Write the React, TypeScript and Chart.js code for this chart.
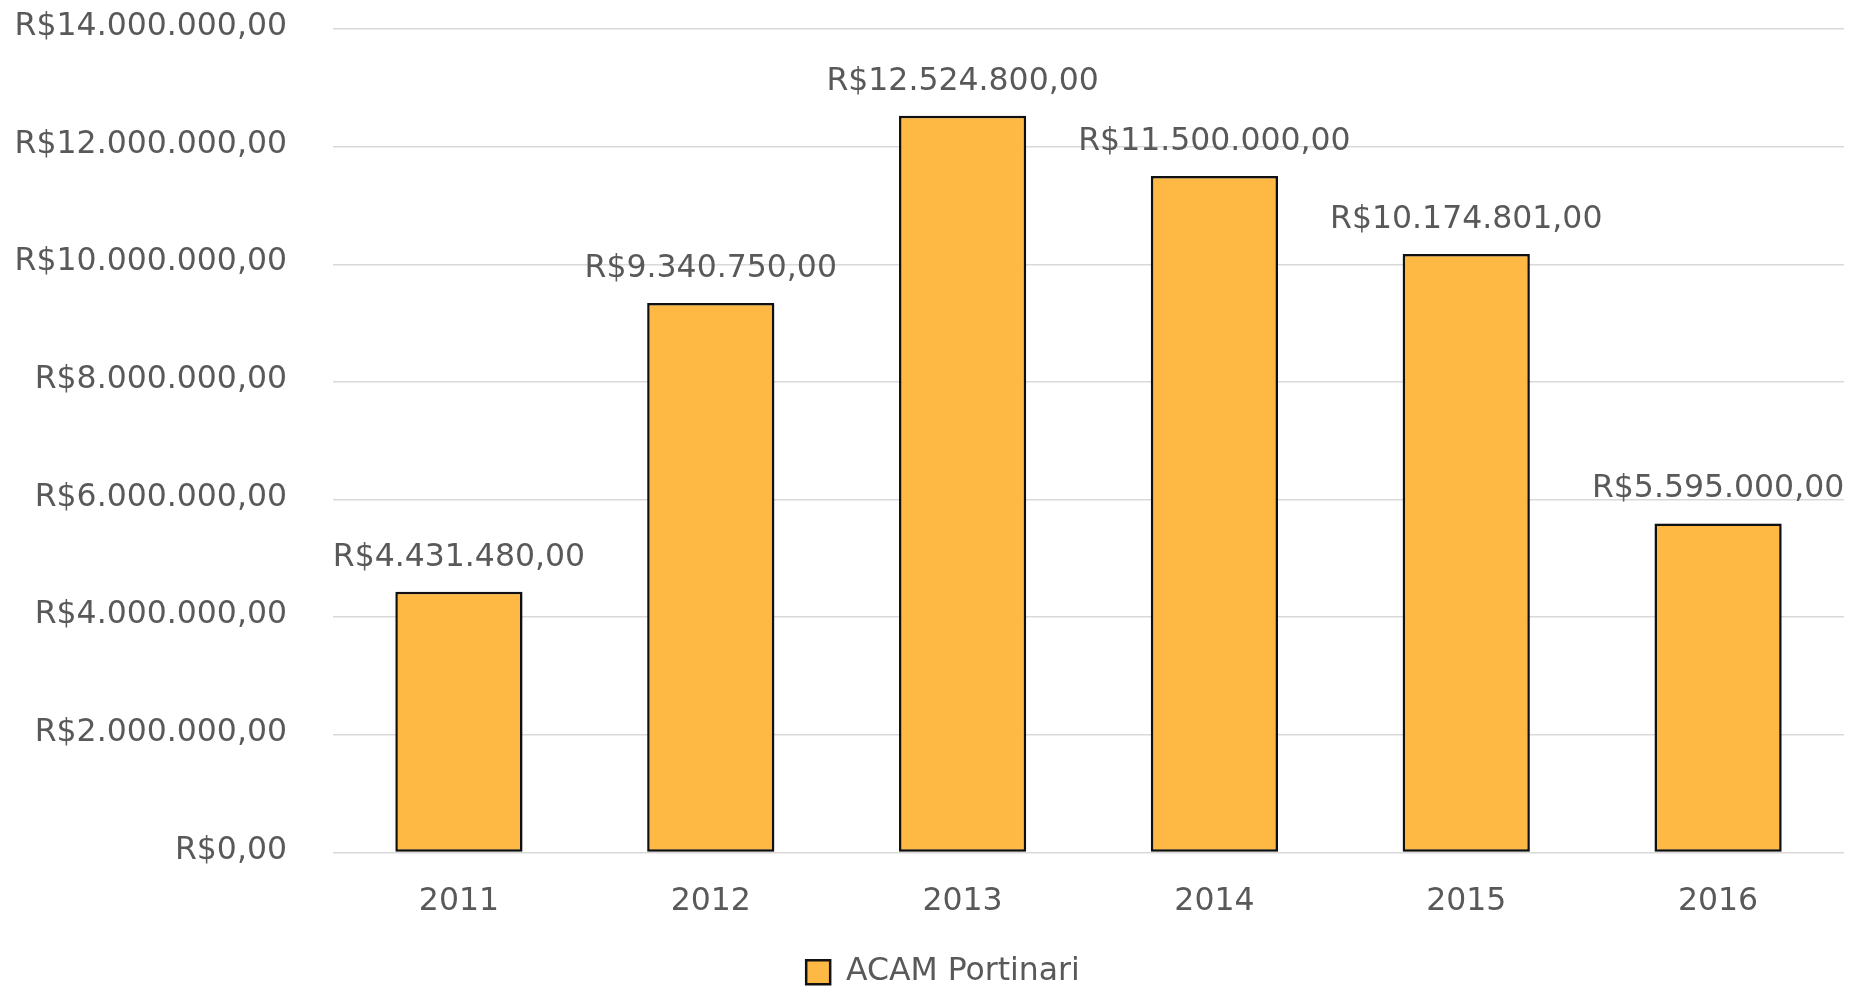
import React, { useEffect, useRef } from "react";
import { Chart, registerables } from "chart.js";

Chart.register(...registerables);

const categories = ["2011", "2012", "2013", "2014", "2015", "2016"];
const seriesName = "ACAM Portinari";
const values = [4431480, 9340750, 12524800, 11500000, 10174801, 5595000];
const yMin = 0;
const yMax = 14000000;
const yStep = 2000000;

const FONT = "'DejaVu Sans', Verdana, sans-serif";
const TEXT = "#595959";
const FILL = "#FDB944";
const FS = 31.5;

function brl(v: number): string {
  const [i, d] = Math.abs(v).toFixed(2).split(".");
  return "R$" + i.replace(/\B(?=(\d{3})+(?!\d))/g, ".") + "," + d;
}

const shadowPlugin = {
  id: "barShadow",
  beforeDatasetDraw(chart: any) {
    const ctx = chart.ctx;
    ctx.save();
    ctx.shadowColor = "rgba(0,0,0,0.28)";
    ctx.shadowBlur = 5;
    ctx.shadowOffsetX = 1;
    ctx.shadowOffsetY = 1;
  },
  afterDatasetDraw(chart: any) {
    chart.ctx.restore();
  },
};

const legendShiftPlugin = {
  id: "legendShift",
  afterLayout(chart: any) {
    if (chart.legend) {
      chart.legend.left += 42;
    }
  },
};

const labelPlugin = {
  id: "valueLabels",
  afterDatasetsDraw(chart: any) {
    const ctx = chart.ctx;
    const meta = chart.getDatasetMeta(0);
    ctx.save();
    ctx.font = `${FS}px ${FONT}`;
    ctx.fillStyle = TEXT;
    ctx.textAlign = "center";
    ctx.textBaseline = "alphabetic";
    meta.data.forEach((bar: any, idx: number) => {
      const v = chart.data.datasets[0].data[idx] as number;
      ctx.fillText(brl(v), bar.x, bar.y - 26);
    });
    ctx.restore();
  },
};

export default function App() {
  const ref = useRef<HTMLCanvasElement | null>(null);

  useEffect(() => {
    document.body.style.margin = "0";
    document.body.style.overflow = "hidden";
    if (!ref.current) return;
    const chart = new Chart(ref.current, {
      type: "bar",
      data: {
        labels: categories,
        datasets: [
          {
            label: seriesName,
            data: values,
            backgroundColor: FILL,
            borderColor: "#111111",
            borderWidth: 2.5,
            borderSkipped: false,
            barPercentage: 0.505,
            categoryPercentage: 1,
          },
        ],
      },
      options: {
        animation: false,
        responsive: true,
        maintainAspectRatio: false,
        layout: { padding: { top: 29, right: 19, left: 0, bottom: -9 } },
        font: { family: FONT },
        plugins: {
          legend: {
            position: "bottom",
            labels: {
              color: TEXT,
              font: { family: FONT, size: FS },
              boxWidth: 24,
              boxHeight: 24,
              padding: 10,
            },
          },
          tooltip: { enabled: false },
        },
        scales: {
          x: {
            grid: { display: false, drawTicks: false },
            border: { display: false },
            ticks: {
              color: TEXT,
              font: { family: FONT, size: FS },
              padding: 30,
            },
            afterFit(scale: any) {
              scale.height = 94;
              scale.paddingLeft = 0;
              scale.paddingRight = 0;
            },
          },
          y: {
            min: yMin,
            max: yMax,
            grid: { color: "#d9d9d9", lineWidth: 1.5, drawTicks: false },
            border: { display: false },
            ticks: {
              stepSize: yStep,
              color: TEXT,
              font: { family: FONT, size: FS },
              padding: 46,
              labelOffset: -2,
              callback: (v: any) => brl(Number(v)),
            },
            afterFit(scale: any) {
              scale.width = 333;
              scale.paddingTop = 0;
              scale.paddingBottom = 0;
            },
          },
        },
      },
      plugins: [shadowPlugin, labelPlugin, legendShiftPlugin],
    });
    return () => chart.destroy();
  }, []);

  return (
    <div style={{ width: 1863, height: 989, position: "relative" }}>
      <canvas ref={ref} />
    </div>
  );
}
